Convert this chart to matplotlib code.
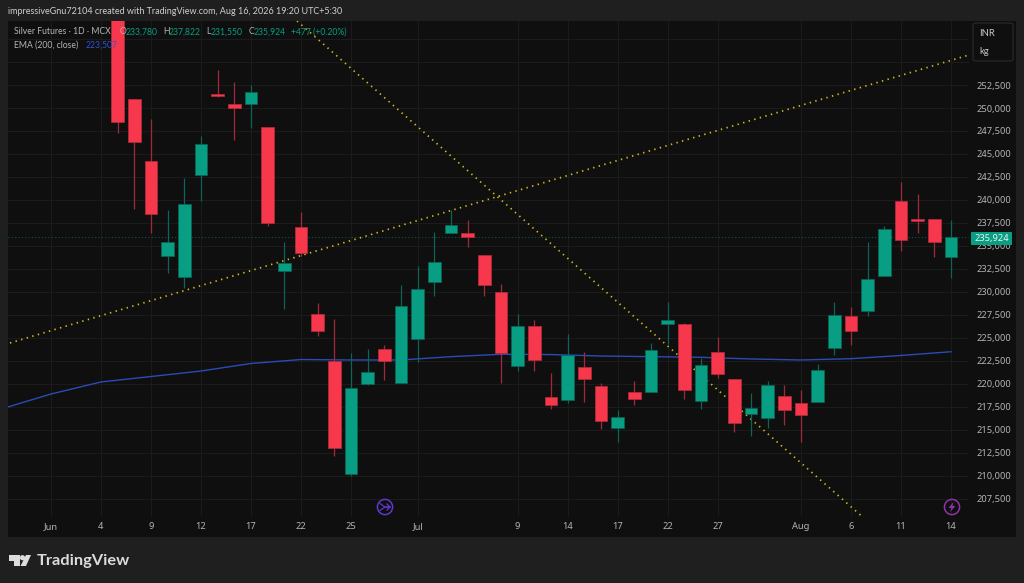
"""Silver Futures daily candles, TradingView snapshot style."""
import matplotlib
matplotlib.use("Agg")
import matplotlib.pyplot as plt
from matplotlib.lines import Line2D
from matplotlib.patches import Circle, FancyBboxPatch, Polygon, Rectangle

W, H = 1024, 583

# candles, one entry per session, index 0 is the "Jun" tick
opens = [None, None, None, None, 262500, 250980, 244240, 233910, 231630, 242720, 251520, 250430, 250430, 247930,
         232280, 237060, 227610, 222500, 210220, 220000, 223800, 220110, 224890, 231090, 236410, 236410,
         234020, 230000, 221960, 226300, 218590, 218260, 221850, 219780, 215220, 219130, 219130, 226520,
         226520, 218150, 223480, 220540, 216740, 216300, 218690, 217930, 218040, 223910, 227390, 227930,
         231740, 239890, 237930, 237930, 233780]
highs = [None, None, None, None, 262500, 250980, 248800, 238910, 242390, 246960, 254130, 252830, 252500, 247930,
         235430, 238700, 228800, 227060, 223370, 223800, 224240, 230760, 232830, 236520, 238910, 237830,
         234020, 230870, 227610, 226960, 221190, 225430, 223480, 220110, 217170, 220320, 224460, 228910,
         226630, 222830, 225110, 220540, 219020, 220320, 219890, 219350, 222170, 228910, 228370, 235430,
         237170, 241960, 240650, 237930, 237822]
lows = [None, None, None, None, 247280, 239020, 236410, 232060, 230430, 239890, 251200, 246520, 247830, 237170,
        228150, 233910, 225220, 212170, 210000, 219890, 220430, 220110, 222390, 229560, 236410, 234890,
        229560, 220110, 221410, 221410, 217280, 217930, 218040, 215110, 213690, 217720, 219130, 224350,
        218370, 217280, 220650, 214780, 214350, 215220, 215540, 213690, 218040, 223150, 224240, 227390,
        231740, 234460, 236410, 233800, 231550]
closes = [None, None, None, None, 248480, 246300, 238480, 235430, 239560, 246090, 251300, 250000, 251740, 237500,
          233150, 234240, 225760, 213040, 219560, 221300, 222500, 228480, 230330, 233260, 237280, 235980,
          230760, 223370, 226300, 222610, 217720, 223150, 220540, 215980, 216410, 218370, 223690, 226960,
          219350, 222060, 221090, 215760, 217390, 219890, 217170, 216630, 221520, 227500, 225760, 231410,
          236850, 235650, 237720, 235430, 235924]

ema_idx = [-3, 0, 3, 6, 9, 12, 15, 18, 21, 24, 27, 30, 33, 36, 39, 42, 45, 48, 51, 54]
ema_val = [217280, 218910, 220220, 220810, 221410, 222230, 222660, 222610, 222610, 222970, 223230, 223200,
           223040, 222970, 222900, 222720, 222610, 222750, 223100, 223507]

trend_up_idx = [-2.46, 55.07]
trend_up_val = [224460, 255760]
trend_down_idx = [14.76, 48.77]
trend_down_val = [259460, 205430]

x_tick_idx = [0, 3, 6, 9, 12, 15, 18, 22, 28, 31, 34, 37, 40, 45, 48, 51, 54]
x_tick_labels = ["Jun", "4", "9", "12", "17", "22", "25", "Jul", "9", "14", "17", "22", "27", "Aug", "6", "11", "14"]
y_ticks = [207500, 210000, 212500, 215000, 217500, 220000, 222500, 225000, 227500, 230000, 232500, 235000,
           237500, 240000, 242500, 245000, 247500, 250000, 252500, 255000, 257500]
last_price = 235924

BG = "#1f1f1f"
PANEL = "#0f0f0f"
GRID = "#1b1b1b"
UP = "#089e83"
DOWN = "#f7374b"
UP_WICK = "#0b6655"
DOWN_WICK = "#a02a3a"
TREND = "#d2bc1c"
EMA = "#2a4bb8"
TEXT = "#b4b4b4"
FONT = "Noto Sans"
NARROW = "Lato"


def fx(x):
    return x / W


def fy(y):
    return 1 - y / H


fig = plt.figure(figsize=(W / 100, H / 100), dpi=100, facecolor=BG)
plt.rcParams["font.family"] = FONT

fig.add_artist(Rectangle((fx(8), fy(537)), 1008 / W, 516 / H, transform=fig.transFigure,
                         facecolor=PANEL, edgecolor="none", zorder=-1))

ax = fig.add_axes([fx(8), fy(516), 961 / W, 495 / H], facecolor="none")
ax.set_xlim(-2.58, 55.08)
ax.set_ylim(205650, 259457)
for side in ax.spines.values():
    side.set_visible(False)

ax.yaxis.tick_right()
ax.set_yticks(y_ticks)
ax.set_yticklabels([f"{v:,}" if v < 255000 else "" for v in y_ticks], fontsize=6.7, color=TEXT, family=FONT)
ax.set_xticks(x_tick_idx)
ax.set_xticklabels(x_tick_labels, fontsize=6.7, color=TEXT, family=FONT)
ax.tick_params(axis="y", length=0, pad=5.6)
ax.tick_params(axis="x", length=0, pad=4.6)
ax.grid(True, color=GRID, linewidth=0.75)
ax.set_axisbelow(True)

ax.axhline(last_price, color="#0b5a4b", linewidth=0.8, linestyle=(0, (1, 2)), zorder=1)
dots = dict(color=TREND, linewidth=1.25, linestyle=(0, (0.8, 2.54)), zorder=1.5)
ax.plot(trend_up_idx, trend_up_val, **dots)
ax.plot(trend_down_idx, trend_down_val, **dots)
ax.plot(ema_idx, ema_val, color=EMA, linewidth=1.0, zorder=1.6)

for i, (o, h, l, c) in enumerate(zip(opens, highs, lows, closes)):
    if o is None:
        continue
    up = c >= o
    ax.vlines(i, l, h, color=UP_WICK if up else DOWN_WICK, linewidth=0.9, zorder=2)
    ax.bar(i, abs(c - o), 0.76, bottom=min(o, c), color=UP if up else DOWN,
           edgecolor=UP_WICK if up else "#b82c3e", linewidth=0.5, zorder=3)

# header strip
fig.text(fx(8), fy(12), "impressiveGnu72104 created with TradingView.com, Aug 16, 2026 19:20 UTC+5:30",
         fontsize=6.45, color="#cfcfcf", va="center", family=NARROW)

# legend texts
legend_bits = [(14, "Silver Futures · 1D · MCX", TEXT), (120, "O", TEXT), (126, "233,780", UP),
               (163, "H", TEXT), (169, "237,822", UP), (206, "L", TEXT), (211, "231,550", UP),
               (249, "C", TEXT), (254, "235,924", UP), (291, "+477 (+0.20%)", UP)]
for x, s, col in legend_bits:
    fig.text(fx(x), fy(32), s, fontsize=6.2, color=col, va="center", family=NARROW)
fig.text(fx(14), fy(45), "EMA (200, close)", fontsize=6.2, color=TEXT, va="center", family=NARROW)
fig.text(fx(86), fy(45), "223,507", fontsize=6.2, color="#2f55d0", va="center", family=NARROW)

# last price tag
fig.add_artist(FancyBboxPatch((fx(971), fy(245)), 41 / W, 13 / H, boxstyle="round,pad=0,rounding_size=0.001",
                              transform=fig.transFigure, facecolor=UP, edgecolor="none", zorder=2))
fig.text(fx(991.5), fy(238.5), f"{last_price:,}", fontsize=6.7, color="#f0f0f0", ha="center", va="center",
         family=FONT, zorder=3)

# unit box
fig.add_artist(FancyBboxPatch((fx(973), fy(61)), 40 / W, 38 / H, boxstyle="round,pad=0,rounding_size=0.003",
                              transform=fig.transFigure, facecolor=PANEL, edgecolor="#2a2a2a", linewidth=0.8,
                              zorder=2))
fig.text(fx(979), fy(33), "INR", fontsize=6.8, color="#c4c4c4", va="center", family=NARROW, zorder=3)
fig.text(fx(979), fy(51), "kg", fontsize=6.8, color="#c4c4c4", va="center", family=NARROW, zorder=3)


def circle_icon(cx, cy, col):
    # figure fractions differ per axis, so draw the ring in pixel space
    fig.add_artist(Circle((cx, H - cy), 7.6, transform=None, facecolor="none", edgecolor=col, linewidth=1.1,
                          zorder=4))


def px_line(xs, ys, col):
    fig.add_artist(Line2D([fx(x) for x in xs], [fy(y) for y in ys], transform=fig.transFigure, color=col,
                          linewidth=0.9, zorder=4))


circle_icon(385, 507, "#6137cc")
px_line([380, 385, 390], [503.5, 507, 507], "#6137cc")
px_line([380, 385, 390], [510.5, 507, 507], "#6137cc")
px_line([387, 390, 387], [504, 507, 510], "#6137cc")

circle_icon(952, 507, "#9132ac")
fig.add_artist(Polygon([(fx(x), fy(y)) for x, y in
                        [(953.5, 502), (948.5, 508), (951.5, 508), (950, 512), (955.5, 506), (952.5, 506)]],
                       transform=fig.transFigure, facecolor="#9132ac", edgecolor="none", zorder=4))

# logo
LOGO = "#dcdcdc"
for pts in ([(9, 555), (20, 555), (20, 566), (13.5, 566), (13.5, 561), (9, 561)],
            [(26, 555), (31, 555), (26, 566), (20.5, 566)]):
    fig.add_artist(Polygon([(fx(x), fy(y)) for x, y in pts], transform=fig.transFigure,
                           facecolor=LOGO, edgecolor="none", zorder=4))
fig.add_artist(Circle((22.5, H - 557.7), 2.6, transform=None, facecolor=LOGO, edgecolor="none", zorder=4))
fig.text(fx(37), fy(560.5), "TradingView", fontsize=11.8, color=LOGO, va="center", family=NARROW, weight="bold")

fig.savefig("out.png", dpi=100, facecolor=BG)
